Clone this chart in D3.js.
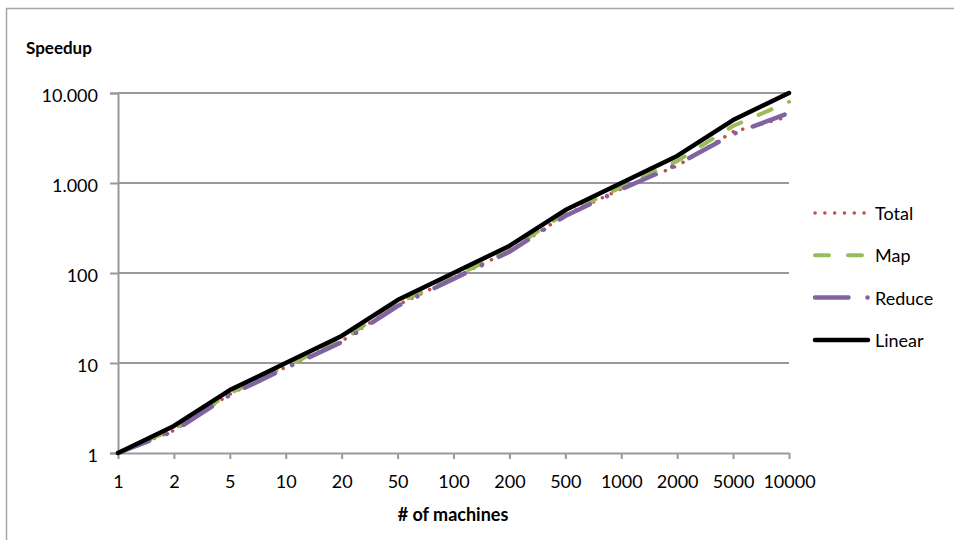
<!DOCTYPE html>
<html lang="en">
<head>
  <meta charset="UTF-8" />
  <title>Speedup</title>
  <script src="https://cdn.jsdelivr.net/npm/d3@7"></script>
  <style>
    body { margin: 0; background: #fff; }
    text { font-family: Lato, "Open Sans", sans-serif; fill: #000; }
  </style>
</head>
<body>
<script>
  const width = 954;
  const height = 540;

  // data
  const machines = ["1", "2", "5", "10", "20", "50", "100", "200", "500", "1000", "2000", "5000", "10000"];
  const total  = [1, 1.78, 4.5, 9, 17.5, 44, 88, 175, 440, 860, 1550, 3700, 5500];
  const map    = [1, 1.85, 4.6, 9.2, 18, 46, 90, 180, 460, 900, 1750, 4300, 8000];
  const reduce = [1, 1.75, 4.4, 8.8, 17, 43, 86, 172, 430, 850, 1600, 3500, 6000];
  const linear = [1, 2, 5, 10, 20, 50, 100, 200, 500, 1000, 2000, 5000, 10000];
  const yTicks = [1, 10, 100, 1000, 10000];

  const series = [
    { name: "Total",  values: total,  color: "#C0504D", width: 3.5, dash: "0.1 9.7" },
    { name: "Map",    values: map,    color: "#9BBB59", width: 4,   dash: "14 19" },
    { name: "Reduce", values: reduce, color: "#8064A2", width: 4.5, dash: "33.5 19 0.1 19" },
    { name: "Linear", values: linear, color: "#000000", width: 4.5, dash: null }
  ];

  const svg = d3.select("body").append("svg")
    .attr("width", width)
    .attr("height", height);

  // outer chart border
  svg.append("rect")
    .attr("x", 6.5).attr("y", 8.5)
    .attr("width", 1000).attr("height", 600)
    .attr("fill", "none")
    .attr("stroke", "#a6a6a6")
    .attr("stroke-width", 1.5);

  const x = d3.scalePoint().domain(machines).range([118, 789]);
  const y = d3.scaleLog().domain([1, 10000]).range([453, 93]);

  const locale = d3.formatLocale({ decimal: ",", thousands: ".", grouping: [3], currency: ["", ""] });
  const fmt = locale.format(",d");

  // gridlines
  svg.append("g")
    .selectAll("line")
    .data(yTicks.slice(1))
    .join("line")
    .attr("x1", 118).attr("x2", 789)
    .attr("y1", d => y(d)).attr("y2", d => y(d))
    .attr("stroke", "#999")
    .attr("stroke-width", 2);

  // y axis
  const yAxis = svg.append("g")
    .attr("transform", "translate(118,0)")
    .call(d3.axisLeft(y).tickValues(yTicks).tickFormat(fmt).tickSize(8).tickPadding(12));
  yAxis.select(".domain").attr("stroke", "#999").attr("stroke-width", 2);
  yAxis.selectAll(".tick line").attr("stroke", "#999").attr("stroke-width", 2);
  yAxis.selectAll(".tick text")
    .attr("font-size", 18).attr("font-family", "Lato, sans-serif")
    .attr("dy", "0").attr("y", 8);

  // x axis
  const xAxis = svg.append("g")
    .attr("transform", "translate(0,453)")
    .call(d3.axisBottom(x).tickSize(6).tickSizeOuter(0));
  xAxis.select(".domain").attr("stroke", "#999").attr("stroke-width", 2);
  xAxis.selectAll(".tick line").attr("stroke", "#999").attr("stroke-width", 2);
  xAxis.selectAll(".tick text")
    .attr("font-size", 18).attr("font-family", "Lato, sans-serif")
    .attr("dy", "0").attr("y", 35);

  // lines
  const line = d3.line()
    .x((d, i) => x(machines[i]))
    .y(d => y(d));

  svg.append("g")
    .selectAll("path")
    .data(series)
    .join("path")
    .attr("d", d => line(d.values))
    .attr("fill", "none")
    .attr("stroke", d => d.color)
    .attr("stroke-width", d => d.width)
    .attr("stroke-dasharray", d => d.dash)
    .attr("stroke-linecap", "round")
    .attr("stroke-linejoin", "round");

  // legend
  const legend = svg.append("g")
    .selectAll("g")
    .data(series)
    .join("g")
    .attr("transform", (d, i) => `translate(815,${213 + i * 42.3})`);

  legend.append("line")
    .attr("x1", 0).attr("x2", 53)
    .attr("stroke", d => d.color)
    .attr("stroke-width", d => d.width)
    .attr("stroke-dasharray", d => d.dash)
    .attr("stroke-linecap", "round");

  legend.append("text")
    .attr("x", 60).attr("y", 7)
    .attr("font-size", 18)
    .text(d => d.name);

  // titles
  svg.append("text")
    .attr("x", 26).attr("y", 54)
    .attr("font-size", 17).attr("font-weight", "bold")
    .text("Speedup");

  svg.append("text")
    .attr("x", 453).attr("y", 521)
    .attr("text-anchor", "middle")
    .attr("font-size", 18).attr("font-weight", "bold")
    .text("# of machines");
</script>
</body>
</html>
